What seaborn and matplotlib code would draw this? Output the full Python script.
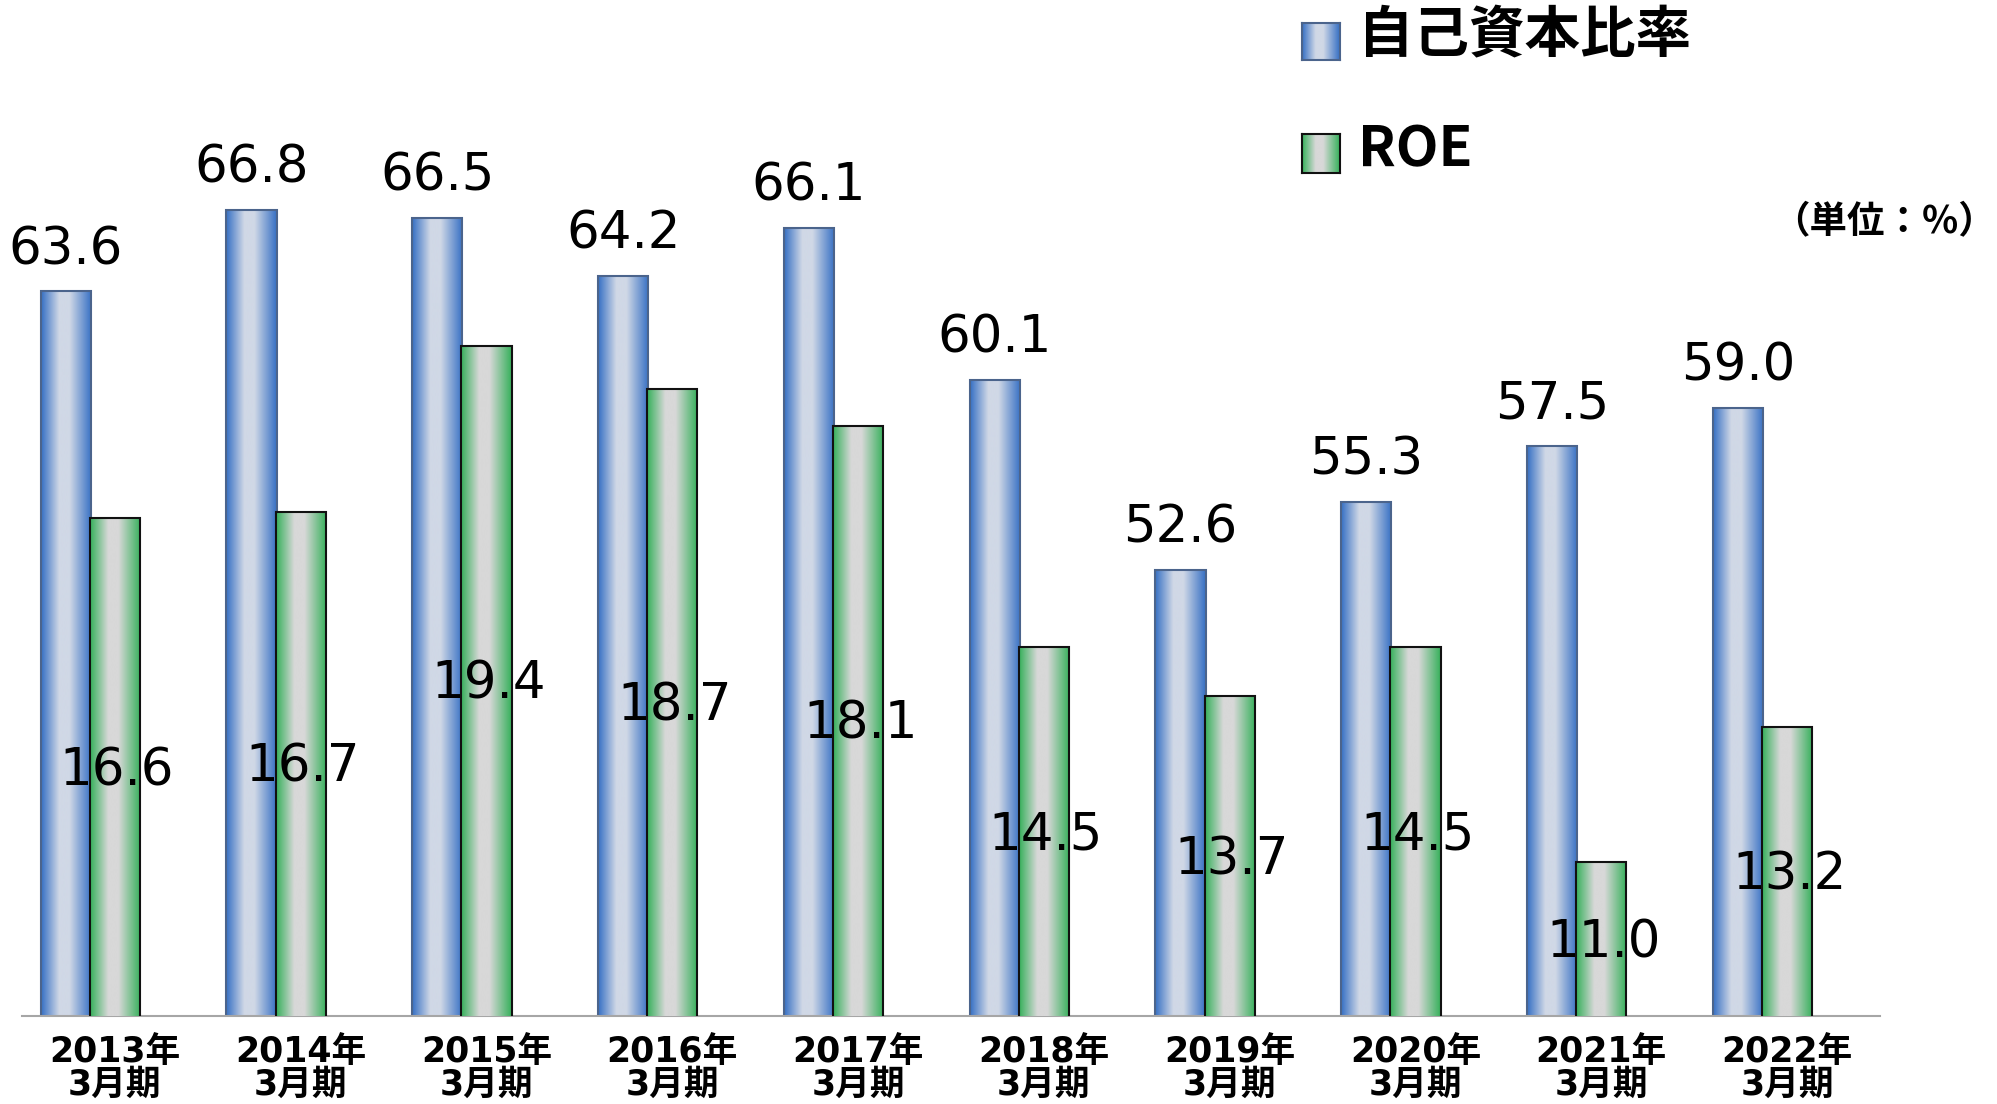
import numpy as np
import matplotlib
matplotlib.use('Agg')
import matplotlib.pyplot as plt
from matplotlib.colors import LinearSegmentedColormap
import seaborn as sns

# data
years = ['2013', '2014', '2015', '2016', '2017', '2018', '2019', '2020', '2021', '2022']
equity_ratio = [63.6, 66.8, 66.5, 64.2, 66.1, 60.1, 52.6, 55.3, 57.5, 59.0]
roe = [16.6, 16.7, 19.4, 18.7, 18.1, 14.5, 13.7, 14.5, 11.0, 13.2]
tick_labels = [f'{y}年\n3月期' for y in years]
series_names = ['自己資本比率', 'ROE']
unit_label = '（単位：%）'

sns.set_style('white')
plt.rcParams['font.family'] = ['DejaVu Sans', 'Noto Sans CJK JP']
plt.rcParams['text.color'] = 'black'
plt.rcParams['xtick.color'] = 'black'
CJK = ['Noto Sans CJK JP', 'DejaVu Sans']
MIXED = ['DejaVu Sans', 'Noto Sans CJK JP']

W, H = 1997, 1104
fig = plt.figure(figsize=(W / 100, H / 100), dpi=100)
ax = fig.add_axes([22 / W, 88 / H, 1858 / W, 996 / H])
ax2 = ax.twinx()

blue_cmap = LinearSegmentedColormap.from_list(
    'blue_bar', [(0, '#356fc4'), (0.36, '#d0d8e6'), (0.56, '#d0d8e6'), (1, '#356fc4')])
green_cmap = LinearSegmentedColormap.from_list(
    'green_bar', [(0, '#35b05a'), (0.36, '#d8d8d8'), (0.56, '#d8d8d8'), (1, '#35b05a')])
grad = np.linspace(0, 1, 256)[None, :]

EQ_MIN, EQ_MAX = 35, 74.3
ROE_MIN, ROE_MAX = 8.5, 24.7
shift = 0.265
pos = np.arange(len(years))

sns.barplot(x=pos - shift, y=equity_ratio, native_scale=True, width=0.27,
            orient='x', ax=ax, color='#356fc4', edgecolor='#4b648c', linewidth=1.5)
sns.barplot(x=pos, y=roe, native_scale=True, width=0.27,
            orient='x', ax=ax2, color='#35b05a', edgecolor='#111111', linewidth=1.5)

ax.set_xlim(-0.5, len(years) - 0.5)
ax.set_ylim(EQ_MIN, EQ_MAX)
ax2.set_ylim(ROE_MIN, ROE_MAX)


def shade(axis, cmap, ymin):
    for p in list(axis.patches):
        p.set_clip_on(True)
        p.set_clip_box(axis.bbox)
        x0, top = p.get_x(), p.get_y() + p.get_height()
        im = axis.imshow(grad, cmap=cmap, aspect='auto', interpolation='bilinear',
                         extent=[x0, x0 + p.get_width(), ymin, top],
                         zorder=p.get_zorder() - 0.1)
        im.set_clip_path(p)
        p.set_facecolor('none')


shade(ax, blue_cmap, EQ_MIN)
shade(ax2, green_cmap, ROE_MIN)
ax.set_xlim(-0.5, len(years) - 0.5)
ax.set_ylim(EQ_MIN, EQ_MAX)
ax2.set_ylim(ROE_MIN, ROE_MAX)

# value labels
for i, v in enumerate(equity_ratio):
    ax.annotate(f'{v:.1f}', (pos[i] - shift, v), xytext=(0, 19.5),
                textcoords='offset points', ha='center', va='baseline', fontsize=37)
for i, v in enumerate(roe):
    ax2.annotate(f'{v:.1f}', (pos[i], (ROE_MIN + v) / 2), xytext=(1.5, -13),
                 textcoords='offset points', ha='center', va='baseline', fontsize=37)

ax.set_xticks(np.arange(-0.5, len(years), 1))
ax.set_xticklabels([])
ax.set_xticks(pos, minor=True)
ax.set_xticklabels(tick_labels, minor=True, fontsize=25, fontweight='bold', family=MIXED)
for lbl in ax.get_xticklabels(minor=True):
    lbl.set_linespacing(0.95)
ax.tick_params(axis='x', which='major', length=12, width=1.2, color='#a6a6a6', direction='out')
ax.tick_params(axis='x', which='minor', length=0, pad=14)

for a in (ax, ax2):
    a.set_yticks([])
    a.set_ylabel('')
    a.set_xlabel('')
    for s in ['top', 'left', 'right']:
        a.spines[s].set_visible(False)
ax2.spines['bottom'].set_visible(False)
ax.spines['bottom'].set_color('#a6a6a6')
ax.spines['bottom'].set_linewidth(1.5)


# legend drawn by hand so the swatches can carry the gradient
def swatch(x0, y0, x1, y1, cmap, edge):
    sa = fig.add_axes([x0 / W, 1 - y1 / H, (x1 - x0) / W, (y1 - y0) / H])
    sa.imshow(grad, cmap=cmap, aspect='auto', interpolation='bilinear')
    sa.set_xticks([])
    sa.set_yticks([])
    for s in sa.spines.values():
        s.set_visible(True)
        s.set_color(edge)
        s.set_linewidth(1.5)


swatch(1302, 23, 1340, 60, blue_cmap, '#4b648c')
swatch(1302, 134, 1340, 173, green_cmap, '#111111')
fig.text(1358 / W, 1 - 36 / H, series_names[0], fontsize=40, fontweight='bold',
         family=CJK, va='center', ha='left')
fig.text(1358 / W, 1 - 150 / H, series_names[1], fontsize=40, fontweight='bold',
         family=CJK, va='center', ha='left')
fig.text(1996 / W, 1 - 222 / H, unit_label, fontsize=27, fontweight='bold',
         family=CJK, va='center', ha='right')

fig.savefig('out.png', dpi=100)
